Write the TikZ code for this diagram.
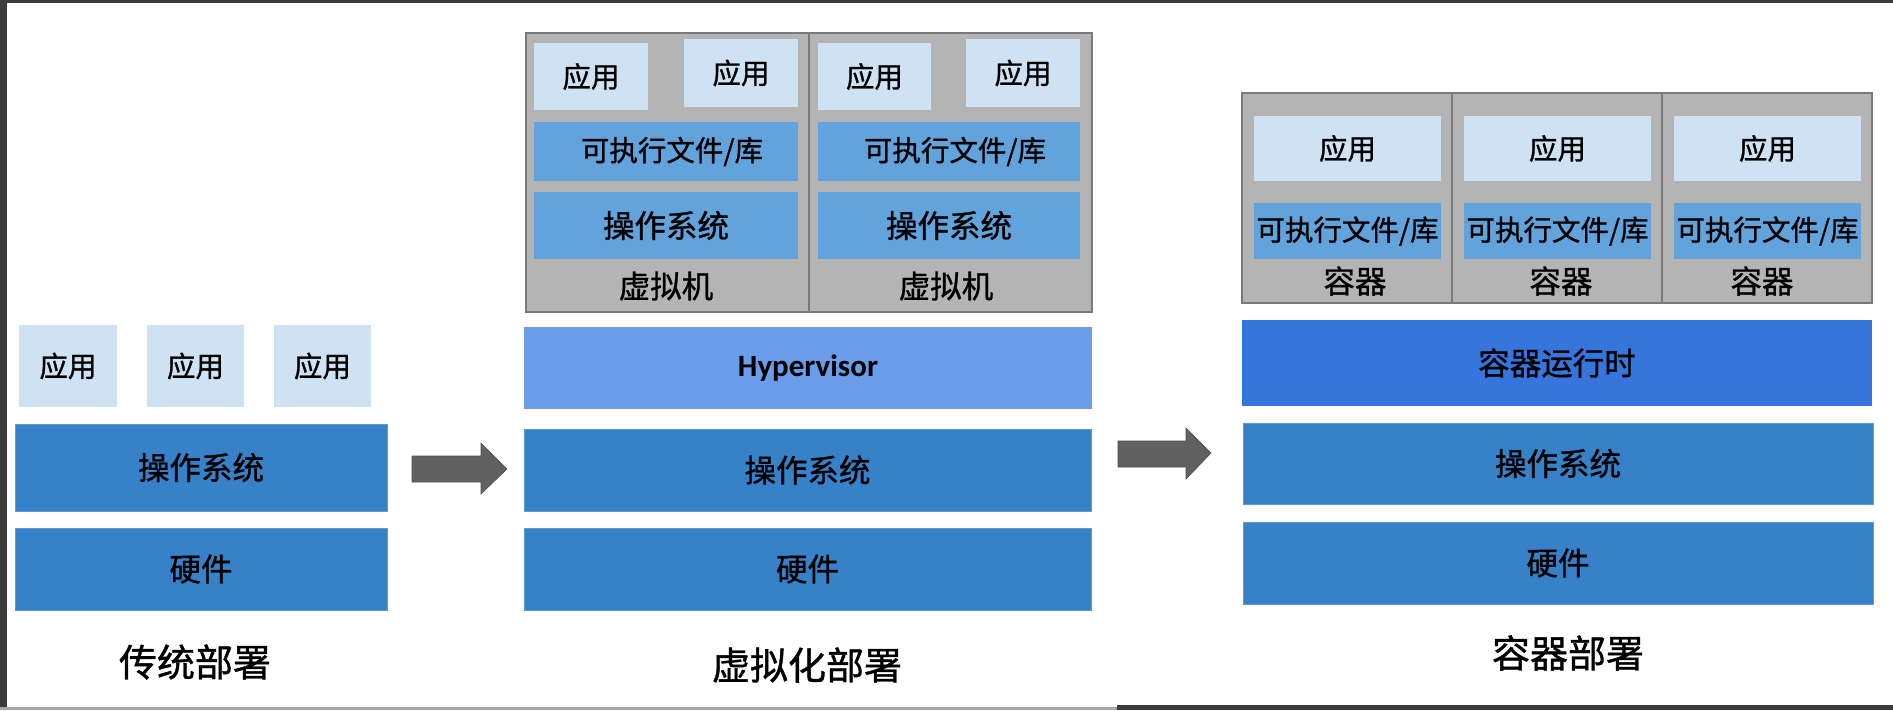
\documentclass[tikz,border=0pt]{standalone}
\usepackage{fontspec}
\setmainfont{Noto Sans CJK SC}[FakeBold=1.0]
\newfontfamily\hyperfont{Carlito}[UprightFont=*-Bold]
\definecolor{appc}{HTML}{CFE2F3}
\definecolor{osc}{HTML}{3781C9}
\definecolor{osb}{HTML}{5B9BD8}
\definecolor{libc}{HTML}{62A3DC}
\definecolor{hypc}{HTML}{699DEB}
\definecolor{rtc}{HTML}{3676DC}
\definecolor{grayc}{HTML}{B4B4B4}
\definecolor{grayb}{HTML}{7A7A7A}
\definecolor{arrc}{HTML}{616161}
\definecolor{framec}{HTML}{3C3C3C}
\begin{document}
\begin{tikzpicture}[x=1pt,y=-1pt,
  box/.style={anchor=north west,inner sep=0pt,outer sep=0pt,align=center},
  app/.style={box,fill=appc,font=\fontsize{28.5}{30}\selectfont},
  lib/.style={box,fill=libc,font=\fontsize{28.5}{30}\selectfont},
  vmos/.style={box,fill=libc,font=\fontsize{31.5}{33}\selectfont},
  base/.style={box,fill=osc,draw=osb,line width=0.8pt,font=\fontsize{31.5}{33}\selectfont},
  hyp/.style={box,fill=hypc,font=\hyperfont\fontsize{31}{33}\selectfont},
  rt/.style={box,fill=rtc,font=\fontsize{31.5}{33}\selectfont},
  grp/.style={box,fill=grayc,draw=grayb,line width=1.2pt},
  vmlabel/.style={inner sep=0pt,font=\fontsize{31.5}{33}\selectfont},
  title/.style={inner sep=0pt,font=\fontsize{38}{40}\selectfont},
  bigarrow/.style={fill=arrc,draw=arrc!80!black,line width=0.6pt}
]
\useasboundingbox (0,0) rectangle (1893,710);
\fill[white] (0,0) rectangle (1893,710);
% screen frame
\fill[framec] (0,0) rectangle (7,710);
\fill[framec] (0,0) rectangle (1893,3);
\fill[gray!70] (0,707) rectangle (1117,710);
\fill[framec] (1117,705) rectangle (1893,710);

% ---------- traditional ----------
\node[app,minimum width=98pt,minimum height=82pt] (ta1) at (19,325) {应用};
\node[app,minimum width=97pt,minimum height=82pt] (ta2) at (147,325) {应用};
\node[app,minimum width=97pt,minimum height=82pt] (ta3) at (274,325) {应用};
\node[base,minimum width=372pt,minimum height=87pt] (tos) at (15,424) {操作系统};
\node[base,minimum width=372pt,minimum height=82pt] (thw) at (15,528) {硬件};
\node[title] (tlabel) at (195,662) {传统部署};

% arrow 1
\draw[bigarrow] (412,456) -- (481,456) -- (481,443) -- (507,469) -- (481,494) -- (481,482) -- (412,482) -- cycle;

% ---------- virtualization ----------
\node[grp,minimum width=566pt,minimum height=279pt] (vmg) at (526,33) {};
\draw[grayb,line width=1.2pt] (809,33) -- (809,312);
\node[app,minimum width=114pt,minimum height=67pt] (v1a1) at (534,43) {应用};
\node[app,minimum width=114pt,minimum height=68pt] (v1a2) at (684,39) {应用};
\node[app,minimum width=113pt,minimum height=67pt] (v2a1) at (818,43) {应用};
\node[app,minimum width=114pt,minimum height=68pt] (v2a2) at (966,39) {应用};
\node[lib,minimum width=264pt,minimum height=59pt] (v1lib) at (534,122) {\hspace*{12pt}可执行文件/库};
\node[lib,minimum width=262pt,minimum height=59pt] (v2lib) at (818,122) {\hspace*{12pt}可执行文件/库};
\node[vmos,minimum width=264pt,minimum height=67pt] (v1os) at (534,192) {操作系统};
\node[vmos,minimum width=262pt,minimum height=67pt] (v2os) at (818,192) {操作系统};
\node[vmlabel] (v1l) at (666,286) {虚拟机};
\node[vmlabel] (v2l) at (946,286) {虚拟机};
\node[hyp,minimum width=568pt,minimum height=82pt] (hv) at (524,327) {Hypervisor};
\node[base,minimum width=567pt,minimum height=82pt] (vos) at (524,429) {操作系统};
\node[base,minimum width=567pt,minimum height=82pt] (vhw) at (524,528) {硬件};
\node[title] (vlabel) at (807,665) {虚拟化部署};

% arrow 2
\draw[bigarrow] (1118,441) -- (1186,441) -- (1186,428) -- (1211,453) -- (1186,479) -- (1186,467) -- (1118,467) -- cycle;

% ---------- containers ----------
\node[grp,minimum width=630pt,minimum height=210pt] (cg) at (1242,93) {};
\draw[grayb,line width=1.2pt] (1452,93) -- (1452,303);
\draw[grayb,line width=1.2pt] (1662,93) -- (1662,303);
\node[app,minimum width=187pt,minimum height=65pt] (c1a) at (1254,116) {应用};
\node[app,minimum width=187pt,minimum height=65pt] (c2a) at (1464,116) {应用};
\node[app,minimum width=187pt,minimum height=65pt] (c3a) at (1674,116) {应用};
\node[lib,minimum width=187pt,minimum height=56pt] (c1lib) at (1254,203) {可执行文件/库};
\node[lib,minimum width=187pt,minimum height=56pt] (c2lib) at (1464,203) {可执行文件/库};
\node[lib,minimum width=187pt,minimum height=56pt] (c3lib) at (1674,203) {可执行文件/库};
\node[vmlabel] (c1l) at (1355,281) {容器};
\node[vmlabel] (c2l) at (1561,281) {容器};
\node[vmlabel] (c3l) at (1762,281) {容器};
\node[rt,minimum width=630pt,minimum height=86pt] (crt) at (1242,320) {容器运行时};
\node[base,minimum width=630pt,minimum height=81pt] (cos) at (1243,423) {操作系统};
\node[base,minimum width=630pt,minimum height=82pt] (chw) at (1243,522) {硬件};
\node[title] (clabel) at (1568,653) {容器部署};
\end{tikzpicture}
\end{document}
